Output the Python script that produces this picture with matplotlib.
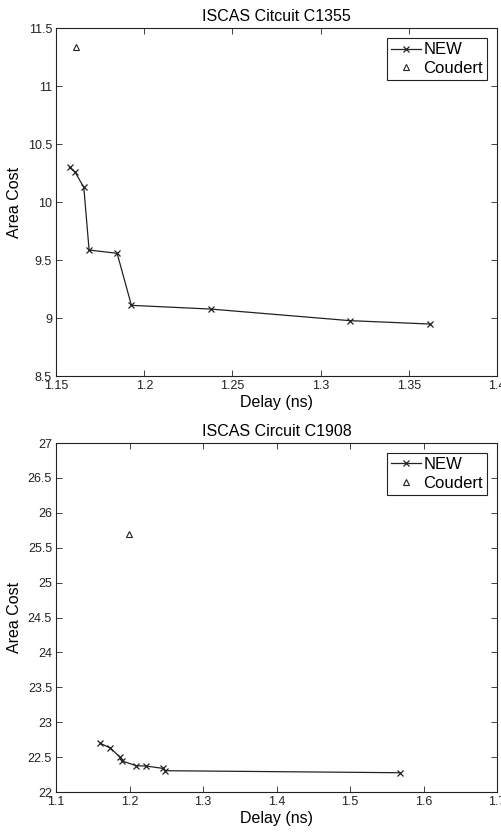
import matplotlib
matplotlib.use("Agg")
import matplotlib.pyplot as plt

plt.rcParams["font.family"] = ["Liberation Sans", "DejaVu Sans"]

# C1355 data
c1355_delay = [1.1576, 1.1608, 1.1657, 1.1687, 1.1846, 1.1927, 1.2376, 1.3166, 1.3618]
c1355_area = [10.30, 10.258, 10.128, 9.587, 9.559, 9.11, 9.078, 8.978, 8.949]
c1355_coudert_delay = [1.1612]
c1355_coudert_area = [11.342]

# C1908 data
c1908_delay = [1.1604, 1.174, 1.1872, 1.1903, 1.209, 1.223, 1.2457, 1.2484, 1.568]
c1908_area = [22.697, 22.63, 22.497, 22.444, 22.377, 22.372, 22.339, 22.306, 22.277]
c1908_coudert_delay = [1.1994]
c1908_coudert_area = [25.70]

fig = plt.figure(figsize=(5.01, 8.32), dpi=100)
ax1 = fig.add_axes([0.112, 0.548, 0.880, 0.418])
ax2 = fig.add_axes([0.112, 0.048, 0.880, 0.4195])


def style(ax, title, xlim, ylim, xticks, yticks, xlabels, ylabels):
    ax.set_xlim(xlim)
    ax.set_ylim(ylim)
    ax.set_xticks(xticks)
    ax.set_yticks(yticks)
    ax.set_xticklabels(xlabels)
    ax.set_yticklabels(ylabels)
    ax.tick_params(direction="in", top=True, right=True, labelsize=9, length=4,
                   width=0.6, pad=3, colors="#222222")
    for s in ax.spines.values():
        s.set_linewidth(0.8)
        s.set_color("#222222")
    ax.set_title(title, fontsize=11.5, pad=5)
    ax.set_xlabel("Delay (ns)", fontsize=11.5, labelpad=2)
    ax.set_ylabel("Area Cost", fontsize=11.5, labelpad=4)
    ax.legend(loc="upper right", fontsize=12, frameon=True, fancybox=False,
              edgecolor="#222222", borderaxespad=0.6, handlelength=1.8,
              handletextpad=0.15, borderpad=0.25, labelspacing=0.2,
              framealpha=1)
    ax.get_legend().get_frame().set_linewidth(0.8)


ax1.plot(c1355_delay, c1355_area, color="#222222", lw=0.9, marker="x", ms=4,
         mew=0.9, label="NEW")
ax1.plot(c1355_coudert_delay, c1355_coudert_area, ls="none", marker="^",
         mfc="none", mec="#222222", ms=5, mew=0.8, label="Coudert")
style(ax1, "ISCAS Citcuit C1355", (1.15, 1.4), (8.5, 11.5),
      [1.15, 1.2, 1.25, 1.3, 1.35, 1.4], [8.5, 9, 9.5, 10, 10.5, 11, 11.5],
      ["1.15", "1.2", "1.25", "1.3", "1.35", "1.4"],
      ["8.5", "9", "9.5", "10", "10.5", "11", "11.5"])

ax2.plot(c1908_delay, c1908_area, color="#222222", lw=0.9, marker="x", ms=4,
         mew=0.9, label="NEW")
ax2.plot(c1908_coudert_delay, c1908_coudert_area, ls="none", marker="^",
         mfc="none", mec="#222222", ms=5, mew=0.8, label="Coudert")
style(ax2, "ISCAS Circuit C1908", (1.1, 1.7), (22, 27),
      [1.1, 1.2, 1.3, 1.4, 1.5, 1.6, 1.7],
      [22, 22.5, 23, 23.5, 24, 24.5, 25, 25.5, 26, 26.5, 27],
      ["1.1", "1.2", "1.3", "1.4", "1.5", "1.6", "1.7"],
      ["22", "22.5", "23", "23.5", "24", "24.5", "25", "25.5", "26", "26.5", "27"])

fig.savefig("out.png", dpi=100)
